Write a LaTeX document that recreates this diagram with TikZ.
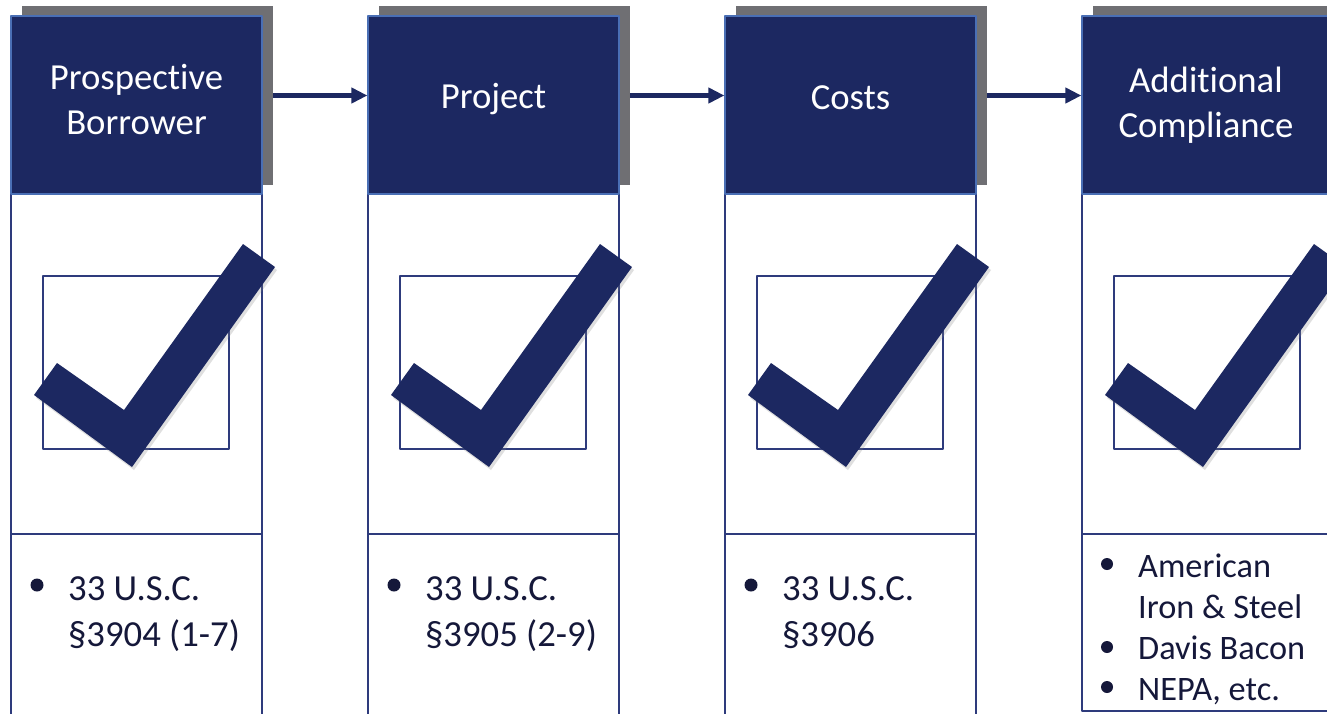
\documentclass[tikz,border=0pt]{standalone}
\usepackage{fontspec}
\setmainfont{Carlito}[Ligatures=CommonOff]
\usepackage{tikz}
\usetikzlibrary{arrows.meta}
\usetikzlibrary{shadows}

\definecolor{navy}{HTML}{1C2861}
\definecolor{shadowgray}{HTML}{6F6F73}
\definecolor{edgeblue}{HTML}{4A6FB5}
\definecolor{colline}{HTML}{2E3B7C}
\definecolor{textnavy}{HTML}{15183A}

\tikzset{
  shadowbox/.style={fill=shadowgray,minimum width=251pt,minimum height=179pt,inner sep=0pt},
  headbox/.style={fill=navy,draw=edgeblue,line width=1.2pt,minimum width=251pt,minimum height=178pt,inner sep=0pt},
  headtext/.style={text=white,align=center,inner sep=0pt,font=\fontsize{36.7}{45}\selectfont},
  itemtext/.style={text=textnavy,inner sep=0pt,anchor=base west,font=\fontsize{36.7}{46}\selectfont},
  smalltext/.style={text=textnavy,inner sep=0pt,anchor=base west,font=\fontsize{34.3}{41}\selectfont},
  frameline/.style={draw=colline,line width=1.3pt},
  checkmark/.style={fill=navy,drop shadow={opacity=0.25,shadow xshift=2pt,shadow yshift=-3pt}},
  flowarrow/.style={draw=navy,line width=4.5pt,line cap=butt}
}

\begin{document}
\begin{tikzpicture}[line cap=round,line join=round,>={Triangle[length=16pt,width=15pt]},x=1pt,y=-1pt]
\path[use as bounding box,clip] (0,0) rectangle (1327,713);
\fill[white] (0,0) rectangle (1327,713);
% four columns
\foreach \c/\x/\yb in {1/11/760,2/368/760,3/725/760,4/1082/711}{
  \draw[frameline] (\x,194) rectangle (\x+251,\yb);
  \draw[frameline] (\x,534) -- (\x+251,534);
  \node[shadowbox] (sh\c) at (\x+136.5,95.5) {};
  \node[headbox] (hd\c) at (\x+125.5,105) {};
  \draw[frameline] (\x+32,276) rectangle (\x+218,449);
  \path[checkmark] (\x+46,363) -- (\x+23,395) -- (\x+121,467) -- (\x+264,267) -- (\x+232,244) -- (\x+113,410) -- cycle;
}
% titles
\node[headtext] (lb1) at (136.5,99) {Prospective\\Borrower};
\node[headtext] (lb2) at (493.5,99) {Project};
\node[headtext] (lb3) at (850.5,98) {Costs};
\node[headtext] (lb4) at (1206,105) {Additional\\Compliance};
% arrows
\foreach \a/\b in {1/2,2/3,3/4}
  \draw[flowarrow,->] (sh\a.east) -- (sh\a.east -| hd\b.west);
% bullet lists
\fill[textnavy] (37,585) circle (6.5pt);
\node[itemtext] (it1a) at (68,600) {33 U.S.C.};
\node[itemtext] (it1b) at (68,646) {§3904 (1-7)};
\fill[textnavy] (394,585) circle (6.5pt);
\node[itemtext] (it2a) at (425,600) {33 U.S.C.};
\node[itemtext] (it2b) at (425,646) {§3905 (2-9)};
\fill[textnavy] (751,585) circle (6.5pt);
\node[itemtext] (it3a) at (782,600) {33 U.S.C.};
\node[itemtext] (it3b) at (782,646) {§3906};
\fill[textnavy] (1107,564) circle (6pt);
\node[smalltext] (it4a) at (1138,577) {American};
\node[smalltext] (it4b) at (1138,618) {Iron \& Steel};
\fill[textnavy] (1107,647) circle (6pt);
\node[smalltext] (it4c) at (1138,659) {Davis Bacon};
\fill[textnavy] (1107,687) circle (6pt);
\node[smalltext] (it4d) at (1138,700) {NEPA, etc.};
\end{tikzpicture}
\end{document}
